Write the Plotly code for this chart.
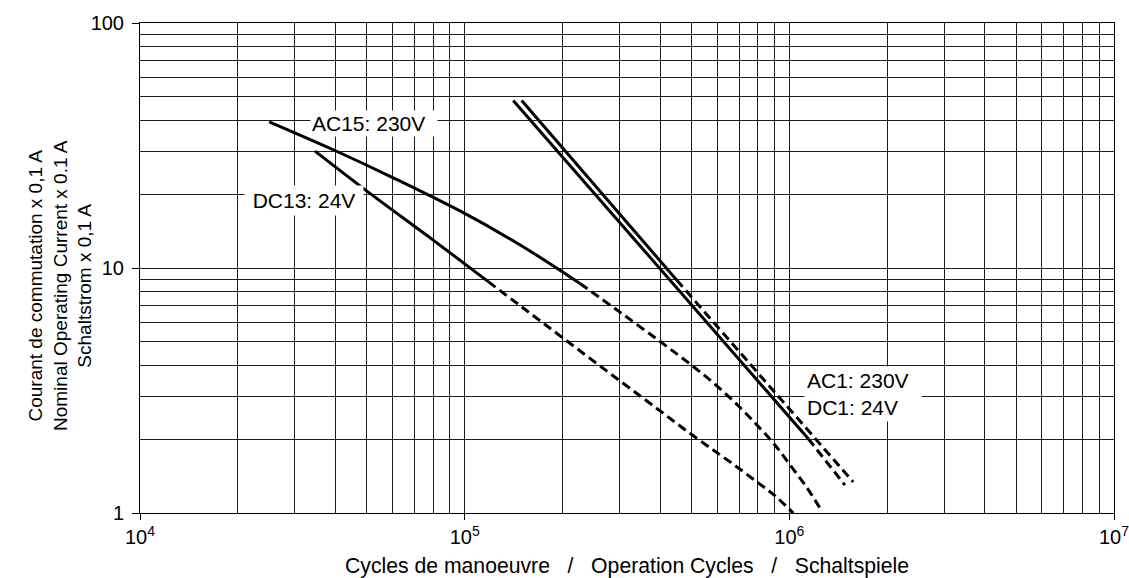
import math
import plotly.graph_objects as go

# ---------------- data ----------------
x_tickvals = [1e4, 1e5, 1e6, 1e7]
x_ticktext = ["10<sup>4</sup>", "10<sup>5</sup>", "10<sup>6</sup>", "10<sup>7</sup>"]
y_tickvals = [1, 10, 100]
y_ticktext = ["1", "10", "100"]

# AC15: 230V
ac15_solid_x = [25000, 40000, 60000, 100000, 150000, 226500]
ac15_solid_y = [39.5, 30.1, 23.4, 16.7, 12.3, 8.65]
ac15_dash_x = [226500, 300000, 400000, 500000, 600000, 700000, 800000, 900000, 1000000, 1130000, 1258000]
ac15_dash_y = [8.65, 6.62, 5.01, 4.01, 3.29, 2.72, 2.265, 1.905, 1.585, 1.274, 1.02]

# DC13: 24V
dc13_solid_x = [34600, 50000, 80000, 118200]
dc13_solid_y = [30.0, 20.6, 13.0, 8.8]
dc13_dash_x = [118200, 150000, 200000, 300000, 400000, 500000, 600000, 700000, 800000, 900000, 1028000]
dc13_dash_y = [8.8, 6.93, 5.2, 3.47, 2.61, 2.09, 1.76, 1.52, 1.33, 1.18, 1.0]

# AC1: 230V (left line)
ac1_solid_x = [141100, 1144000]
ac1_solid_y = [48.3, 2.01]
ac1_dash_x = [1144000, 1483000]
ac1_dash_y = [2.01, 1.30]

# DC1: 24V (right line)
dc1_solid_x = [149800, 449700]
dc1_solid_y = [48.3, 8.93]
dc1_dash_x = [449700, 1573000]
dc1_dash_y = [8.93, 1.339]

labels = ["AC15: 230V", "DC13: 24V", "AC1: 230V<br>DC1: 24V"]
x_title = "Cycles de manoeuvre\u00a0\u00a0\u00a0/\u00a0\u00a0\u00a0Operation Cycles\u00a0\u00a0\u00a0/\u00a0\u00a0\u00a0Schaltspiele"
y_title = "Courant de commutation x 0,1 A<br>Nominal Operating Current x 0.1 A<br>Schaltstrom x 0,1 A"

# ---------------- figure ----------------
FONT = "Liberation Sans, Arial, Helvetica, sans-serif"
LW = 3
DASH = "9px,5px"

fig = go.Figure()


def add(xs, ys, dashed, shape="linear"):
    fig.add_trace(go.Scatter(
        x=xs, y=ys, mode="lines", showlegend=False, hoverinfo="skip",
        line=dict(color="black", width=LW, dash=DASH if dashed else "solid",
                  shape=shape, smoothing=1.0 if shape == "spline" else None),
    ))


add(ac15_solid_x, ac15_solid_y, False, "spline")
add(ac15_dash_x, ac15_dash_y, True, "spline")
add(dc13_solid_x, dc13_solid_y, False, "spline")
add(dc13_dash_x, dc13_dash_y, True, "spline")
add(ac1_solid_x, ac1_solid_y, False)
add(ac1_dash_x, ac1_dash_y, True)
add(dc1_solid_x, dc1_solid_y, False)
add(dc1_dash_x, dc1_dash_y, True)

x_minor = [m * 10 ** e for e in (4, 5, 6) for m in range(2, 10)]
y_minor = [m * 10 ** e for e in (0, 1) for m in range(2, 10)]

GRID = "#1e1e1e"

fig.update_layout(
    width=1129, height=578,
    margin=dict(l=140, r=15, t=23, b=65, autoexpand=False),
    paper_bgcolor="white", plot_bgcolor="white",
    font=dict(family=FONT, size=20, color="black"),
    xaxis=dict(
        type="log", range=[4, 7], automargin=False,
        tickvals=x_tickvals, ticktext=x_ticktext,
        ticks="outside", ticklen=6, tickwidth=1, tickcolor="black",
        showline=True, linecolor="black", linewidth=1, mirror=True,
        showgrid=True, gridcolor=GRID, gridwidth=1,
        minor=dict(tickvals=x_minor, showgrid=True, gridcolor=GRID, gridwidth=1, ticks=""),
        tickfont=dict(size=20), zeroline=False, ticklabeloverflow="allow",
    ),
    yaxis=dict(
        type="log", range=[0, 2], automargin=False,
        tickvals=y_tickvals, ticktext=y_ticktext,
        ticks="outside", ticklen=7, tickwidth=1, tickcolor="black",
        showline=True, linecolor="black", linewidth=1, mirror=True,
        showgrid=True, gridcolor=GRID, gridwidth=1,
        minor=dict(tickvals=y_minor, showgrid=True, gridcolor=GRID, gridwidth=1, ticks=""),
        tickfont=dict(size=20), zeroline=False, ticklabeloverflow="allow",
        ticklabelstandoff=4,
    ),
)

# curve labels (white boxes)
fig.add_annotation(x=4.5235, y=1.5885, xref="x", yref="y", text=labels[0],
                   showarrow=False, xanchor="left", yanchor="middle", align="left",
                   bgcolor="white", borderpad=1, width=124, font=dict(size=21))
fig.add_annotation(x=4.5050, y=1.2738, xref="x", yref="y", text=labels[1],
                   showarrow=False, xanchor="center", yanchor="middle", align="center",
                   bgcolor="white", borderpad=3, width=112, font=dict(size=21))
fig.add_annotation(x=6.045, y=0.4851, xref="x", yref="y", text=labels[2],
                   showarrow=False, xanchor="left", yanchor="middle", align="left",
                   bgcolor="white", borderpad=2, width=112, font=dict(size=21))

# axis titles
fig.add_annotation(x=(60 - 140) / 974, y=(513 - 286) / 490, xref="paper", yref="paper",
                   text=y_title, textangle=-90, showarrow=False,
                   xanchor="center", yanchor="middle", align="center",
                   font=dict(size=19))
fig.add_annotation(x=0.5, y=(513 - 566) / 490, xref="paper", yref="paper",
                   text=x_title, showarrow=False, xanchor="center", yanchor="middle",
                   font=dict(size=21.2))

fig.write_html("out.html", config={"displayModeBar": False},
               post_script="document.body.style.margin='0';")
